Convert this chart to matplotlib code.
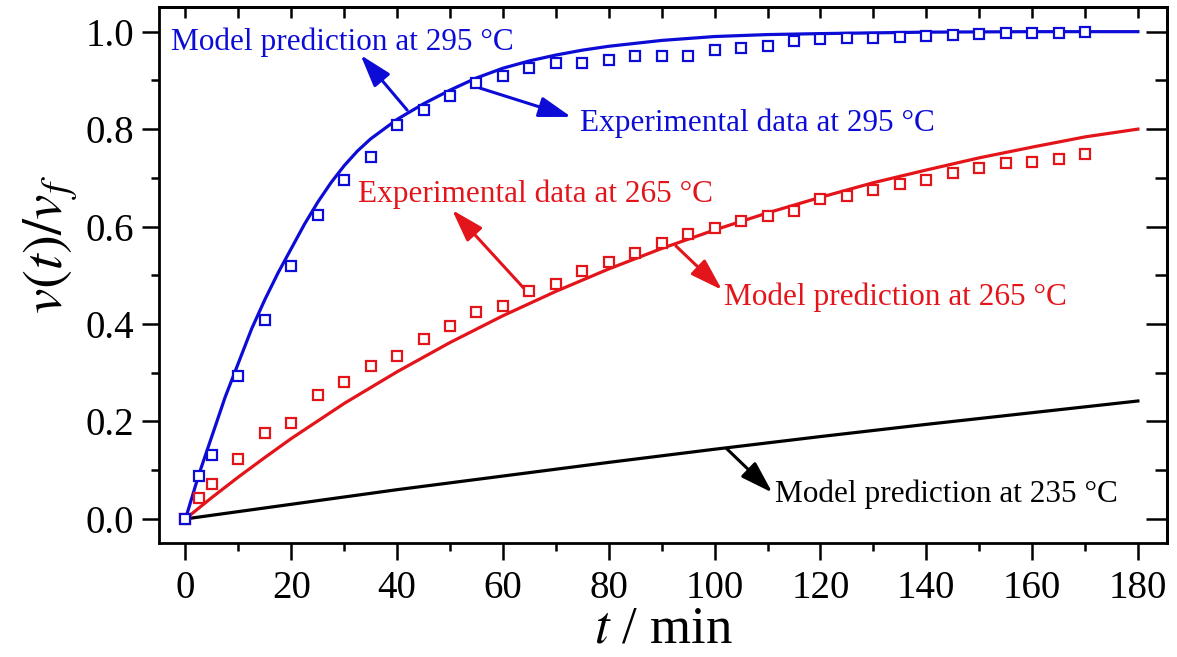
import matplotlib
matplotlib.use("Agg")
from matplotlib import pyplot as plt
from matplotlib.ticker import MultipleLocator, NullFormatter

# experimental data (squares)
t_exp = [0, 2.5, 5, 10, 15, 20, 25, 30, 35, 40, 45, 50, 55, 60, 65, 70, 75, 80,
         85, 90, 95, 100, 105, 110, 115, 120, 125, 130, 135, 140, 145, 150, 155,
         160, 165, 170]
exp_295 = [0, 0.088, 0.131, 0.294, 0.408, 0.519, 0.624, 0.695, 0.742, 0.809, 0.840,
           0.867, 0.895, 0.910, 0.925, 0.936, 0.936, 0.941, 0.951, 0.951, 0.951,
           0.963, 0.967, 0.970, 0.980, 0.984, 0.986, 0.987, 0.990, 0.991, 0.993,
           0.995, 0.997, 0.998, 0.998, 1.0]
exp_265 = [0, 0.042, 0.072, 0.123, 0.176, 0.197, 0.254, 0.281, 0.314, 0.335, 0.369,
           0.396, 0.425, 0.437, 0.468, 0.483, 0.509, 0.527, 0.546, 0.567, 0.584,
           0.597, 0.611, 0.621, 0.632, 0.657, 0.663, 0.676, 0.688, 0.696, 0.709,
           0.721, 0.730, 0.733, 0.739, 0.748]

# model predictions (lines)
t_295 = [0, 2.5, 5, 7.5, 10, 12.5, 15, 17.5, 20, 22.5, 25, 27.5, 30, 32.5, 35,
         37.5, 40, 45, 50, 55, 60, 65, 70, 75, 80, 90, 100, 110, 120, 140, 160, 180]
model_295 = [0, 0.09, 0.17, 0.25, 0.32, 0.39, 0.45, 0.505, 0.555, 0.605, 0.65, 0.69,
             0.725, 0.755, 0.78, 0.80, 0.82, 0.852, 0.88, 0.905, 0.925, 0.94, 0.952,
             0.962, 0.97, 0.982, 0.99, 0.994, 0.996, 0.999, 1.0, 1.0]
t_265 = [0, 5, 10, 15, 20, 30, 40, 50, 60, 70, 80, 90, 100, 110, 120, 130, 140, 150,
         160, 170, 180]
model_265 = [0, 0.044, 0.086, 0.126, 0.165, 0.237, 0.302, 0.362, 0.417, 0.467, 0.513,
             0.555, 0.593, 0.628, 0.66, 0.69, 0.716, 0.741, 0.763, 0.784, 0.80]
t_235 = [0, 20, 40, 60, 80, 100, 120, 140, 160, 180]
model_235 = [0, 0.030, 0.060, 0.088, 0.116, 0.143, 0.169, 0.194, 0.218, 0.242]

BLUE = "#0c0cd6"
RED = "#e3141a"


def arrow(ax, tail, head, color):
    ax.annotate("", xy=head, xytext=tail,
                arrowprops=dict(arrowstyle="-|>,head_length=1.1,head_width=0.35",
                                color=color, lw=2.2, mutation_scale=18,
                                shrinkA=0, shrinkB=0))


def main():
    plt.rcParams["font.family"] = ["Liberation Serif", "DejaVu Serif"]
    plt.rcParams["mathtext.fontset"] = "stix"

    fig = plt.figure(figsize=(11.77, 6.57), dpi=100)
    ax = fig.add_axes([0.1351, 0.1731, 0.8564, 0.8158])

    ax.plot(t_295, model_295, color=BLUE, lw=2.3, zorder=2)
    ax.plot(t_265, model_265, color=RED, lw=2.3, zorder=2)
    ax.plot(t_235, model_235, color="black", lw=2.3, zorder=2)
    ax.plot(t_exp, exp_265, "s", ms=7.5, mew=1.6, mec=RED, mfc="white", zorder=3)
    ax.plot(t_exp, exp_295, "s", ms=7.5, mew=1.6, mec=BLUE, mfc="white", zorder=3)

    ax.set_xlim(-5, 185.5)
    ax.set_ylim(-0.05, 1.05)

    fs = 22.5
    ax.text(-2.8, 0.962, "Model prediction at 295 °C", color=BLUE, fontsize=fs)
    ax.text(74.5, 0.797, "Experimental data at 295 °C", color=BLUE, fontsize=fs)
    ax.text(32.7, 0.651, "Experimental data at 265 °C", color=RED, fontsize=fs)
    ax.text(101.8, 0.44, "Model prediction at 265 °C", color=RED, fontsize=fs)
    ax.text(111.4, 0.034, "Model prediction at 235 °C", color="black", fontsize=fs)

    arrow(ax, (41.9, 0.839), (33.1, 0.952), BLUE)
    arrow(ax, (55.7, 0.884), (72.9, 0.825), BLUE)
    arrow(ax, (63.9, 0.474), (50.4, 0.634), RED)
    arrow(ax, (92.7, 0.560), (101.4, 0.470), RED)
    arrow(ax, (102.3, 0.144), (110.9, 0.054), "black")

    # bottom / left: outward ticks with labels
    ax.xaxis.set_major_locator(MultipleLocator(20))
    ax.xaxis.set_minor_locator(MultipleLocator(10))
    ax.yaxis.set_major_locator(MultipleLocator(0.2))
    ax.yaxis.set_minor_locator(MultipleLocator(0.1))
    ax.yaxis.set_major_formatter(lambda v, p: "%.1f" % v)
    ax.tick_params(which="major", direction="out", length=12, width=1.8,
                   labelsize=28)
    ax.tick_params(which="minor", direction="out", length=6, width=1.8)
    ax.tick_params(axis="x", pad=7)
    ax.tick_params(axis="y", pad=6)

    # top / right: inward ticks, no labels
    top = ax.secondary_xaxis("top")
    top.xaxis.set_major_locator(MultipleLocator(10))
    top.xaxis.set_major_formatter(NullFormatter())
    top.tick_params(direction="in", length=8, width=1.8)
    right = ax.secondary_yaxis("right")
    right.yaxis.set_major_locator(MultipleLocator(0.2))
    right.yaxis.set_minor_locator(MultipleLocator(0.1))
    right.yaxis.set_major_formatter(NullFormatter())
    right.tick_params(which="major", direction="in", length=15, width=1.8)
    right.tick_params(which="minor", direction="in", length=9, width=1.8)

    for s in list(ax.spines.values()) + [top.spines["top"], right.spines["right"]]:
        s.set_linewidth(2)

    ax.set_xlabel("$t$ / min", fontsize=38, labelpad=-1)
    ax.set_ylabel("$v(t)/v_f$", fontsize=41)
    ax.yaxis.set_label_coords(-0.078, 0.557)

    fig.savefig("out.png", dpi=100)


if __name__ == "__main__":
    main()
